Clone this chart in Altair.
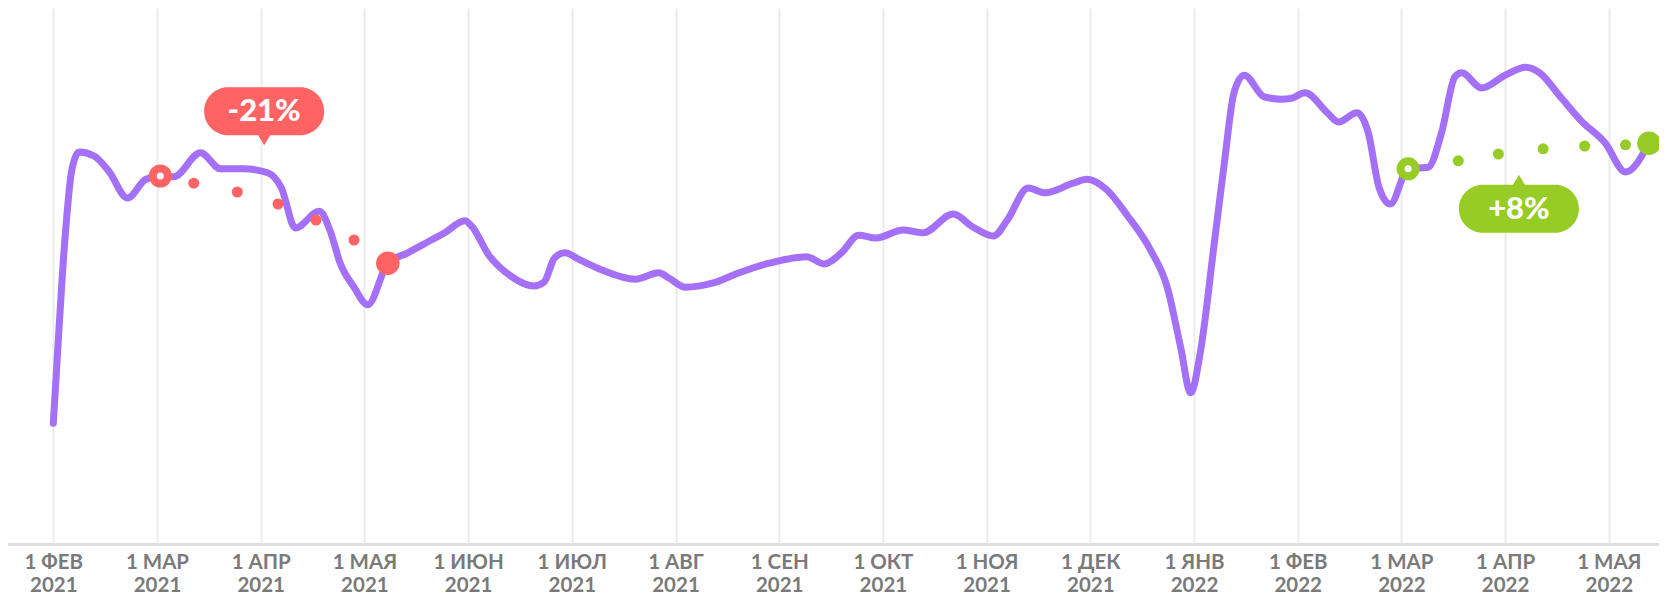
import json
import altair as alt
import pandas as pd

# ---- data ----
line_dates = [
    "2021-02-01", "2021-02-02", "2021-02-04", "2021-02-06", "2021-02-08", "2021-02-12",
    "2021-02-16", "2021-02-21", "2021-02-26", "2021-03-02", "2021-03-06", "2021-03-14",
    "2021-03-20", "2021-03-27", "2021-04-03", "2021-04-07", "2021-04-11", "2021-04-18",
    "2021-04-21", "2021-04-24", "2021-04-28", "2021-05-02", "2021-05-08", "2021-05-14",
    "2021-05-21", "2021-05-25", "2021-05-31", "2021-06-02", "2021-06-07", "2021-06-13",
    "2021-06-20", "2021-06-23", "2021-06-26", "2021-06-29", "2021-07-03", "2021-07-10",
    "2021-07-20", "2021-07-27", "2021-07-30", "2021-08-04", "2021-08-12", "2021-08-20",
    "2021-08-29", "2021-09-09", "2021-09-14", "2021-09-19", "2021-09-24", "2021-09-29",
    "2021-10-07", "2021-10-13", "2021-10-22", "2021-10-28", "2021-11-03", "2021-11-07",
    "2021-11-13", "2021-11-18", "2021-11-26", "2021-11-30", "2021-12-06", "2021-12-12",
    "2021-12-19", "2021-12-24", "2021-12-28", "2021-12-31", "2022-01-03", "2022-01-07",
    "2022-01-10", "2022-01-13", "2022-01-16", "2022-01-22", "2022-01-27", "2022-01-30",
    "2022-02-03", "2022-02-09", "2022-02-12", "2022-02-17", "2022-02-20", "2022-02-23",
    "2022-02-26", "2022-03-03", "2022-03-09", "2022-03-13", "2022-03-17", "2022-03-19",
    "2022-03-25", "2022-04-01", "2022-04-07", "2022-04-11", "2022-04-17", "2022-04-23",
    "2022-04-30", "2022-05-06", "2022-05-13",
]
line_values = [
    30.2, 45.5, 74.5, 93.5, 98.0, 97.0,
    93.2, 86.5, 91.2, 92.0, 91.8, 97.8,
    93.8, 93.8, 92.8, 89.0, 79.0, 83.2,
    78.5, 70.2, 64.2, 59.8, 70.2, 72.8,
    76.0, 77.8, 80.8, 79.5, 72.2, 67.2,
    64.5, 65.5, 71.5, 72.8, 71.2, 68.5,
    66.2, 67.8, 66.5, 64.2, 65.2, 67.8,
    70.2, 71.8, 70.0, 72.8, 77.2, 76.5,
    78.5, 77.8, 82.5, 79.2, 77.0, 81.0,
    89.0, 87.8, 90.2, 91.2, 88.5, 82.2,
    73.5, 64.2, 49.2, 37.8, 48.5, 74.8,
    94.8, 113.0, 117.2, 111.8, 111.2, 111.4,
    112.8, 107.8, 105.5, 107.8, 103.0, 89.0,
    85.0, 93.8, 94.2, 102.8, 116.8, 117.8,
    114.0, 117.2, 119.2, 117.8, 111.8, 105.8,
    100.2, 93.0, 100.2,
]

# trend dots (first = open ring, last = big dot)
drop_dates = ["2021-03-02", "2021-03-12", "2021-03-25", "2021-04-06", "2021-04-17", "2021-04-28", "2021-05-08"]
drop_values = [92.0, 90.2, 88.0, 85.0, 81.0, 76.0, 70.2]
rise_dates = ["2022-03-03", "2022-03-18", "2022-03-30", "2022-04-12", "2022-04-24", "2022-05-06", "2022-05-13"]
rise_values = [93.8, 95.8, 97.5, 98.8, 99.5, 99.8, 100.2]

label_texts = ["-21%", "+8%"]
label_dates = ["2021-04-02", "2022-04-05"]
label_values = [108.2, 83.8]
label_pointer = ["down", "up"]

month_names = ["ЯНВ", "ФЕВ", "МАР", "АПР", "МАЯ", "ИЮН", "ИЮЛ", "АВГ", "СЕН", "ОКТ", "НОЯ", "ДЕК"]
tick_months = list(range(16))  # 1 Feb 2021 .. 1 May 2022

PURPLE = "#a470f7"
RED = "#ff6363"
GREEN = "#97cb25"


def month_pos(s):
    d = pd.Timestamp(s)
    return (d.year - 2021) * 12 + d.month - 2 + (d.day - 1) / d.days_in_month


line_df = pd.DataFrame({"date": line_dates, "value": line_values})
line_df["m"] = line_df["date"].map(month_pos)

rows = []
for dates, vals, col in [(drop_dates, drop_values, RED), (rise_dates, rise_values, GREEN)]:
    n = len(dates)
    for i, (d, v) in enumerate(zip(dates, vals)):
        kind = "ring" if i == 0 else ("big" if i == n - 1 else "dot")
        rows.append({"date": d, "value": v, "color": col, "kind": kind})
dots_df = pd.DataFrame(rows)
dots_df["m"] = dots_df["date"].map(month_pos)

PILL_DOWN = ("M -0.6 -0.4 L 0.6 -0.4 C 0.8209 -0.4 1 -0.2209 1 0 C 1 0.2209 0.8209 0.4 0.6 0.4 "
             "L 0.1 0.4 L 0 0.5667 L -0.1 0.4 L -0.6 0.4 C -0.8209 0.4 -1 0.2209 -1 0 "
             "C -1 -0.2209 -0.8209 -0.4 -0.6 -0.4 Z")
PILL_UP = ("M -0.6 0.4 L 0.6 0.4 C 0.8209 0.4 1 0.2209 1 0 C 1 -0.2209 0.8209 -0.4 0.6 -0.4 "
           "L 0.1 -0.4 L 0 -0.5667 L -0.1 -0.4 L -0.6 -0.4 C -0.8209 -0.4 -1 -0.2209 -1 0 "
           "C -1 0.2209 -0.8209 0.4 -0.6 0.4 Z")

lab_df = pd.DataFrame({
    "text": label_texts,
    "date": label_dates,
    "value": label_values,
    "shape": [PILL_DOWN if p == "down" else PILL_UP for p in label_pointer],
    "color": [RED, GREEN],
})
lab_df["m"] = lab_df["date"].map(month_pos)

# ---- scales / axis ----
x_scale = alt.Scale(domain=[-0.4368, 15.484], nice=False, zero=False)
y_scale = alt.Scale(domain=[0, 134], nice=False, zero=False)

label_expr = ("['1 ' + " + json.dumps(month_names, ensure_ascii=False) +
              "[(datum.value + 1) % 12], '' + (2021 + floor((datum.value + 1) / 12))]")

x_axis = alt.Axis(
    values=tick_months, labelExpr=label_expr, title=None,
    grid=True, gridColor="#ebebeb", gridWidth=2,
    domain=True, domainColor="#dedede", domainWidth=3, domainCap="round",
    ticks=False, tickSize=0, labelPadding=8,
    labelFont="Lato", labelFontWeight="bold", labelFontSize=20.5, labelColor="#7a7a7a",
    labelLineHeight=23, labelFlush=False, labelOverlap=False, labelBaseline="top",
)

X = alt.X("m:Q", scale=x_scale, axis=x_axis)
Y = alt.Y("value:Q", scale=y_scale, axis=None)

line = alt.Chart(line_df).mark_line(
    color=PURPLE, strokeWidth=7, interpolate="monotone", strokeCap="round", strokeJoin="round"
).encode(x=X, y=Y)

small = alt.Chart(dots_df).transform_filter("datum.kind == 'dot'").mark_circle(
    size=121, opacity=1
).encode(x=X, y=Y, color=alt.Color("color:N", scale=None))

big = alt.Chart(dots_df).transform_filter("datum.kind == 'big'").mark_circle(
    size=552, opacity=1
).encode(x=X, y=Y, color=alt.Color("color:N", scale=None))

ring = alt.Chart(dots_df).transform_filter("datum.kind == 'ring'").mark_point(
    shape="circle", size=225, filled=True, fill="white", strokeWidth=8, opacity=1
).encode(x=X, y=Y, stroke=alt.Stroke("color:N", scale=None))

pill = alt.Chart(lab_df).mark_point(size=14400, filled=True, opacity=1, strokeWidth=0).encode(
    x=X, y=Y, shape=alt.Shape("shape:N", scale=None), color=alt.Color("color:N", scale=None)
)

pill_text = alt.Chart(lab_df).mark_text(
    font="Lato", fontWeight=900, fontSize=31, color="white",
    align="center", baseline="middle", dy=1
).encode(x=X, y=Y, text="text:N")

chart = alt.layer(line, small, big, ring, pill, pill_text).properties(
    width=1651, height=536,
    autosize=alt.AutoSizeParams(type="none"),
    padding={"left": 0, "right": 0, "top": 0, "bottom": 54},
).configure_view(strokeWidth=0)

chart.save("out.html", embed_options={"renderer": "svg", "actions": False})
